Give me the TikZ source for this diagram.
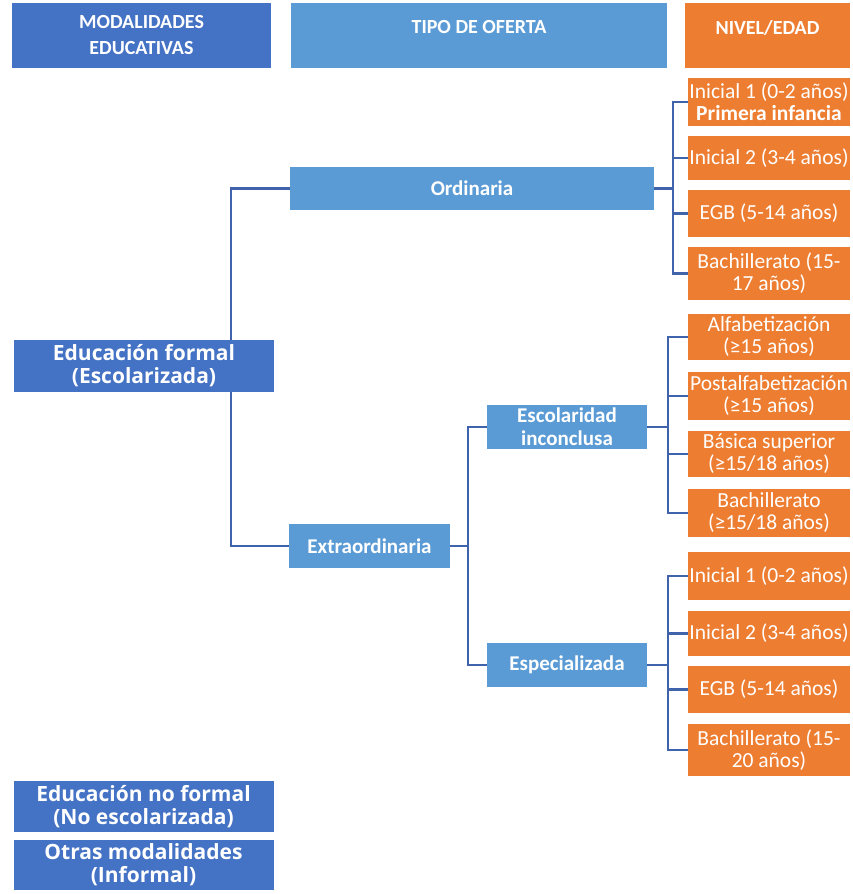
\documentclass[tikz,border=0pt]{standalone}
\usepackage{fontspec}
\setmainfont{Carlito}
\newfontfamily\widefont{Open Sans}
\definecolor{dblue}{HTML}{4472C4}
\definecolor{lblue}{HTML}{5B9BD5}
\definecolor{orng}{HTML}{ED7D31}
\definecolor{lnc}{HTML}{4064AC}
\begin{document}
\begin{tikzpicture}[x=1pt,y=-1pt,
  box/.style={rectangle, text=white, align=center, inner sep=0pt},
  hbox/.style={box, font=\bfseries\fontsize{20}{26}\selectfont},
  lbox/.style={box, fill=dblue, minimum width=260pt, font=\widefont\bfseries\fontsize{21}{23}\selectfont},
  mbox/.style={box, fill=lblue, minimum height=44pt, font=\bfseries\fontsize{21}{23}\selectfont},
  obox/.style={box, fill=orng, minimum width=162pt, font=\fontsize{21.5}{22}\selectfont},
  conn/.style={draw=lnc, line width=2.2pt}]
\useasboundingbox (0,0) rectangle (853,894);

% headers
\node[hbox, fill=dblue, minimum width=259pt, minimum height=65pt] (h1) at (141.5,35.5) {MODALIDADES\\EDUCATIVAS};
\node[hbox, fill=lblue, minimum width=376pt, minimum height=65pt,
      label={[hbox, yshift=8pt]center:TIPO DE OFERTA}] (h2) at (479,35.5) {};
\node[hbox, fill=orng, minimum width=165pt, minimum height=65pt,
      label={[hbox, yshift=8pt]center:NIVEL/EDAD}] (h3) at (767.5,35.5) {};

\coordinate (efx) at (231,366);

% middle boxes
\node[mbox, minimum width=364pt, minimum height=43pt] (ord) at (472,188.5) {Ordinaria};
\node[mbox, minimum width=161pt] (ext) at (369.5,546) {Extraordinaria};
\node[mbox, minimum width=160pt] (esc) at (567,427) {Escolaridad\\inconclusa};
\node[mbox, minimum width=160pt] (esp) at (567,665) {Especializada};

% formal connectors (drawn before the box so it covers them)
\draw[conn] (efx) |- (ord.west);
\draw[conn] (efx) |- (ext.west);

% left boxes
\node[lbox, minimum height=52pt] (ef) at (144,366) {Educación formal\\(Escolarizada)};
\node[lbox, minimum height=51pt] (enf) at (143.5,806.5) {Educación no formal\\(No escolarizada)};
\node[lbox, minimum height=50pt] (om) at (143.5,865) {Otras modalidades\\(Informal)};

% orange boxes - Ordinaria
\node[obox, minimum height=48pt] (o1) at (769,102) {Inicial 1 (0-2 años)\\\textbf{Primera infancia}};
\node[obox, minimum height=44pt] (o2) at (769,158) {Inicial 2 (3-4 años)};
\node[obox, minimum height=47pt] (o3) at (769,213.5) {EGB (5-14 años)};
\node[obox, minimum height=53pt] (o4) at (769,273.5) {Bachillerato (15-\\17 años)};

% orange boxes - Escolaridad inconclusa
\node[obox, minimum height=46pt] (e1) at (769,337) {Alfabetización\\(≥15 años)};
\node[obox, minimum height=48pt] (e2) at (769,396) {Postalfabetización\\(≥15 años)};
\node[obox, minimum height=46pt] (e3) at (769,454) {Básica superior\\(≥15/18 años)};
\node[obox, minimum height=48pt] (e4) at (769,513) {Bachillerato\\(≥15/18 años)};

% orange boxes - Especializada
\node[obox, minimum height=48pt] (s1) at (769,576) {Inicial 1 (0-2 años)};
\node[obox, minimum height=45pt] (s2) at (769,633.5) {Inicial 2 (3-4 años)};
\node[obox, minimum height=47pt] (s3) at (769,689.5) {EGB (5-14 años)};
\node[obox, minimum height=52pt] (s4) at (769,750) {Bachillerato (15-\\20 años)};

% connectors
\foreach \c in {o1,o2,o3,o4} \draw[conn] (ord.east) -- ++(19,0) |- (\c.west);
\foreach \c in {esc,esp} \draw[conn] (ext.east) -- ++(18,0) |- (\c.west);
\foreach \c in {e1,e2,e3,e4} \draw[conn] (esc.east) -- ++(21,0) |- (\c.west);
\foreach \c in {s1,s2,s3,s4} \draw[conn] (esp.east) -- ++(21,0) |- (\c.west);
\end{tikzpicture}
\end{document}
